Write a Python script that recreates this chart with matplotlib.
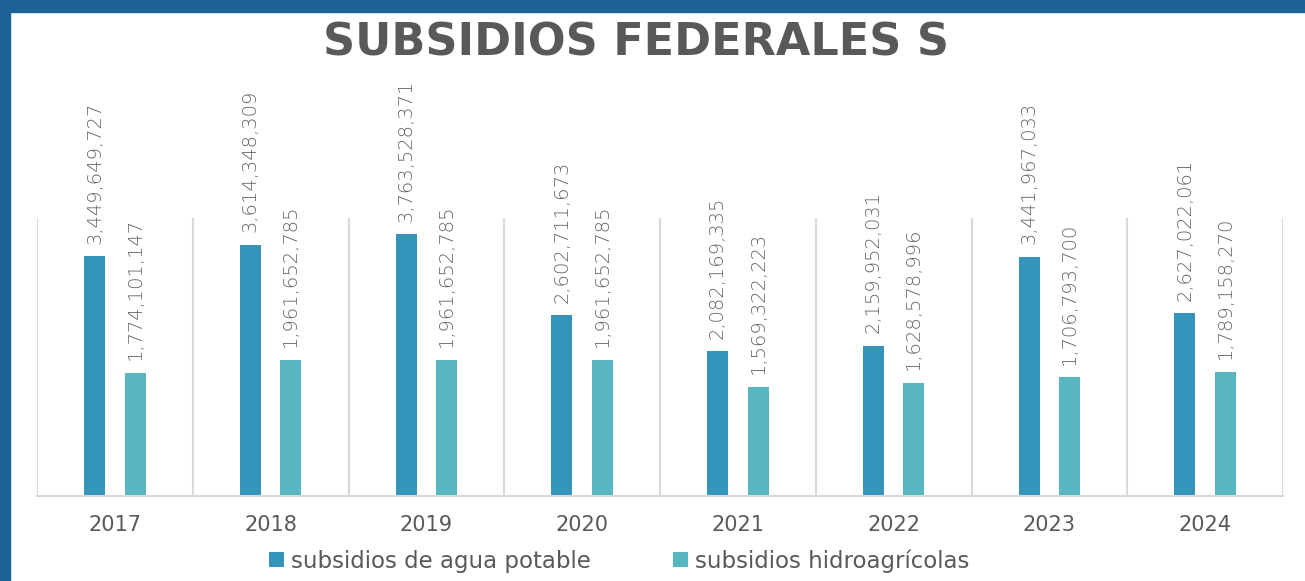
import numpy as np
import matplotlib.pyplot as plt
from matplotlib.patches import Rectangle

years = ['2017', '2018', '2019', '2020', '2021', '2022', '2023', '2024']
agua = [3449649727, 3614348309, 3763528371, 2602711673, 2082169335, 2159952031, 3441967033, 2627022061]
hidro = [1774101147, 1961652785, 1961652785, 1961652785, 1569322223, 1628578996, 1706793700, 1789158270]

c_agua = '#3494BA'
c_hidro = '#58B6C0'
gray = '#595959'

plt.rcParams['font.family'] = ['DejaVu Sans']

fig = plt.figure(figsize=(13.05, 5.81), dpi=100)
# blue frame on top and left
fig.patches.append(Rectangle((0, 1 - 12 / 581), 1, 12 / 581, transform=fig.transFigure,
                             color='#1D6296', zorder=0))
fig.patches.append(Rectangle((0, 0), 10 / 1305, 1, transform=fig.transFigure,
                             color='#1D6296', zorder=0))

ax = fig.add_axes([37 / 1305, 1 - 496 / 581, 1246 / 1305, 278 / 581])
x = np.arange(len(years))
w = 0.135
off = 0.13
b1 = ax.bar(x - off, agua, w, color=c_agua, label='subsidios de agua potable', zorder=2)
b2 = ax.bar(x + off, hidro, w, color=c_hidro, label='subsidios hidroagrícolas', zorder=2)

for bars, vals in ((b1, agua), (b2, hidro)):
    for r, v in zip(bars, vals):
        ax.annotate(f'{v:,}', (r.get_x() + r.get_width() / 2, r.get_height()),
                    xytext=(0, 9), textcoords='offset points', rotation=90,
                    ha='center', va='bottom', fontsize=14, color='#666666',
                    fontweight='light')

ax.set_xlim(-0.5, len(years) - 0.5)
ax.set_ylim(0, 4.0e9)
ax.set_yticks([])
ax.set_xticks(x)
ax.set_xticklabels(years, fontsize=15, color=gray)
ax.tick_params(axis='x', length=0, pad=14)
for s in ['top', 'right', 'left']:
    ax.spines[s].set_visible(False)
ax.spines['bottom'].set_color('#d9d9d9')
ax.spines['bottom'].set_linewidth(1.5)
for b in np.arange(-0.5, len(years) + 0.5, 1):
    ax.axvline(b, color='#d9d9d9', lw=1.5, zorder=1)

fig.text(0.487, 1 - 43 / 581, 'SUBSIDIOS FEDERALES S', ha='center', va='center',
         fontsize=32, fontweight='bold', color=gray)

fig.legend(handles=[b1, b2], loc='center', bbox_to_anchor=(619 / 1305, 1 - 561 / 581),
           ncol=2, frameon=False, fontsize=16.5, handlelength=0.65, handleheight=0.65,
           handletextpad=0.3, columnspacing=3.6, labelcolor=gray)

fig.savefig('out.png', dpi=100)
